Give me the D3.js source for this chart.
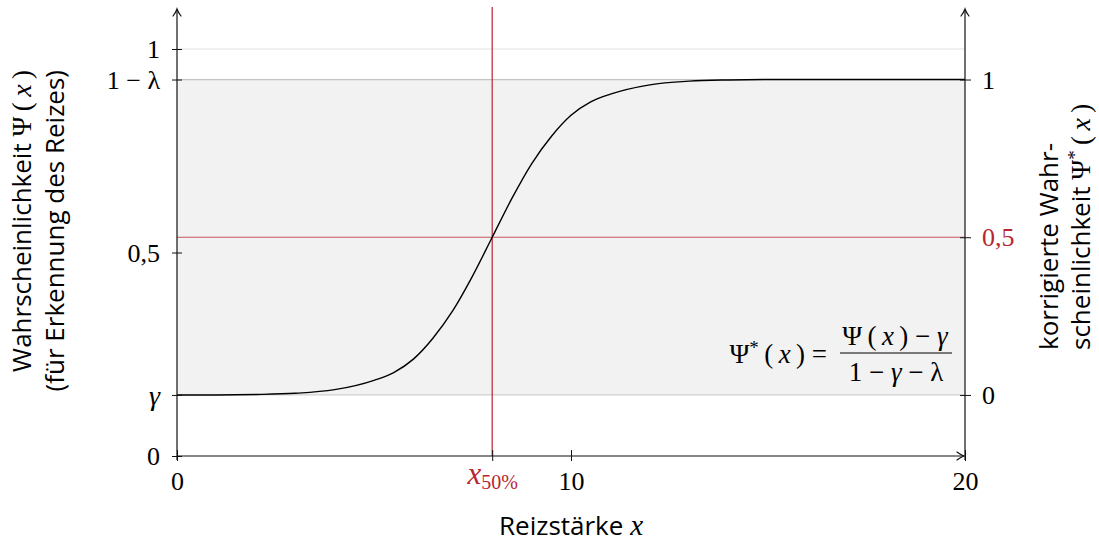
<!DOCTYPE html>
<html>
<head>
<meta charset="utf-8">
<script src="https://cdn.jsdelivr.net/npm/d3@7"></script>
<style>
  html, body { margin: 0; padding: 0; background: #fff; }
  svg { display: block; }
  .sans { font-family: "Open Sans", "Noto Sans", sans-serif; }
</style>
</head>
<body>
<svg id="chart" width="1099" height="544"></svg>
<script>
// Psychometric function: guess rate, lapse rate and threshold
const gamma = 0.15;
const lambda = 0.075;
const x50 = 8;

// Stimulus intensity and detection probability along the curve
const stimulus = [0, 1, 2, 3, 4, 5, 5.5, 6, 6.5, 7, 7.5, 8, 8.5, 9, 9.5, 10, 10.5, 11, 12, 13, 14, 15, 16, 17, 18, 19, 20];
const psi = [0.150, 0.150, 0.151, 0.154, 0.163, 0.186, 0.205, 0.238, 0.290, 0.357, 0.442, 0.5375, 0.633, 0.718, 0.785, 0.837, 0.870, 0.889, 0.912, 0.921, 0.924, 0.925, 0.925, 0.925, 0.925, 0.925, 0.925];

// Tick positions and their labels
const xTickValues = [0, x50, 10, 20];
const leftTickValues = [0, gamma, 0.5, 1 - lambda, 1];
const leftTickLabels = ["0", "γ", "0,5", "1 − λ", "1"];
const rightTickValues = [0, 0.5, 1];
const rightTickLabels = ["0", "0,5", "1"];

const red = "#b8262f";
const thin = "\u2009";
const svg = d3.select("#chart");

const x = d3.scaleLinear().domain([0, 20]).range([177, 965]);
const y = d3.scaleLinear().domain([0, 1]).range([456, 49]);
// corrected probability maps [0,1] onto [gamma, 1 - lambda]
const yc = d3.scaleLinear().domain([0, 1]).range([y(gamma), y(1 - lambda)]);

// shaded band between guess rate and 1 - lapse rate
svg.append("rect")
  .attr("x", x(0)).attr("width", x(20) - x(0))
  .attr("y", y(1 - lambda)).attr("height", y(gamma) - y(1 - lambda))
  .attr("fill", "#f2f2f2");

// reference lines
[[1, "#e2e2e2"], [1 - lambda, "#c4c4c4"], [gamma, "#d0d0d0"]].forEach(([v, c]) => {
  svg.append("line")
    .attr("x1", x(0)).attr("x2", x(20))
    .attr("y1", y(v)).attr("y2", y(v))
    .attr("stroke", c).attr("stroke-width", 1.2);
});

// threshold markers
svg.append("line")
  .attr("x1", x(0)).attr("x2", x(20))
  .attr("y1", yc(0.5)).attr("y2", yc(0.5))
  .attr("stroke", red).attr("stroke-opacity", 0.75).attr("stroke-width", 1.2);
svg.append("line")
  .attr("x1", x(x50)).attr("x2", x(x50))
  .attr("y1", 7).attr("y2", y(0))
  .attr("stroke", red).attr("stroke-width", 1.2);

// the psychometric curve
const line = d3.line()
  .x((d, i) => x(stimulus[i]))
  .y(d => y(d))
  .curve(d3.curveMonotoneX);
svg.append("path")
  .datum(psi)
  .attr("d", line)
  .attr("fill", "none")
  .attr("stroke", "#000")
  .attr("stroke-width", 1.4);

// axes
const axisColor = "#111";
const mathFont = "'Liberation Serif', serif";
function styleAxis(g) {
  g.select(".domain").remove();
  g.selectAll(".tick line").attr("stroke", axisColor);
  g.selectAll(".tick text")
    .attr("font-family", mathFont)
    .attr("font-size", 26)
    .attr("fill", "#000");
}

// left axis
const leftAxis = svg.append("g")
  .attr("transform", `translate(${x(0)},0)`)
  .call(d3.axisLeft(y).tickValues(leftTickValues)
    .tickFormat((d, i) => leftTickLabels[i]).tickSize(5).tickPadding(12))
  .call(styleAxis);
leftAxis.selectAll(".tick line").attr("x1", -5).attr("x2", 5);
leftAxis.selectAll(".tick text").attr("dy", "0.33em").attr("x", -17)
  .attr("font-style", (d, i) => leftTickLabels[i] === "γ" ? "italic" : "normal")
  .attr("font-size", (d, i) => leftTickLabels[i] === "γ" ? 28 : 26);

// right axis (corrected probability)
const rightAxis = svg.append("g")
  .attr("transform", `translate(${x(20)},0)`)
  .call(d3.axisRight(yc).tickValues(rightTickValues)
    .tickFormat((d, i) => rightTickLabels[i]).tickSize(5))
  .call(styleAxis);
rightAxis.selectAll(".tick line").attr("x1", -5).attr("x2", 6);
rightAxis.selectAll(".tick text").attr("dy", "0.33em").attr("x", 17)
  .attr("fill", d => d === 0.5 ? red : "#000");

// bottom axis
const bottomAxis = svg.append("g")
  .attr("transform", `translate(0,${y(0)})`)
  .call(d3.axisBottom(x).tickValues(xTickValues).tickSize(5))
  .call(styleAxis);
bottomAxis.selectAll(".tick line").attr("y1", -6).attr("y2", 5);
bottomAxis.selectAll(".tick text").attr("dy", 0).attr("y", 34)
  .each(function (d) {
    const t = d3.select(this);
    if (d === x50) {
      t.text("").attr("fill", red);
      t.append("tspan").attr("font-style", "italic").attr("font-size", 31).attr("dy", -6).text("x");
      t.append("tspan").attr("font-size", 20).attr("dy", 5).text("50%");
    }
  });

// axis lines with arrow tips
const axisLines = svg.append("g").attr("stroke", axisColor).attr("stroke-width", 1.2).attr("fill", "none");
axisLines.append("line").attr("x1", x(0)).attr("x2", x(0)).attr("y1", 460).attr("y2", 10);
axisLines.append("line").attr("x1", x(20)).attr("x2", x(20)).attr("y1", 460).attr("y2", 10);
axisLines.append("line").attr("x1", x(0)).attr("x2", x(20) - 1).attr("y1", y(0)).attr("y2", y(0));
function arrowUp(cx, cy) {
  axisLines.append("path")
    .attr("d", `M${cx - 4},${cy + 7} Q${cx - 1},${cy + 3} ${cx},${cy} Q${cx + 1},${cy + 3} ${cx + 4},${cy + 7}`)
    .attr("stroke-linecap", "round");
}
arrowUp(x(0), 9);
arrowUp(x(20), 9);
const ax = x(20) - 1, ay = y(0);
axisLines.append("path")
  .attr("d", `M${ax - 7},${ay - 4} Q${ax - 3},${ay - 1} ${ax},${ay} Q${ax - 3},${ay + 1} ${ax - 7},${ay + 4}`)
  .attr("stroke-linecap", "round");

// axis titles
function mathPsi(t, star) {
  t.append("tspan").attr("font-family", mathFont).attr("font-size", 27).text(star ? "Ψ" : " Ψ");
  if (star) t.append("tspan").attr("font-family", mathFont).attr("dy", -9).attr("font-size", 19).text("*");
  t.append("tspan").attr("font-family", mathFont).attr("font-size", 27).attr("dy", star ? 9 : 0).text(thin + "(" + thin);
  t.append("tspan").attr("font-family", mathFont).attr("font-size", 28).attr("font-style", "italic").text("x");
  t.append("tspan").attr("font-family", mathFont).attr("font-size", 27).text(thin + ")");
}

const leftTitle = svg.append("g").attr("class", "sans").attr("font-size", 26).attr("fill", "#000");
const l1 = leftTitle.append("text")
  .attr("transform", "translate(31,70) rotate(-90)")
  .attr("text-anchor", "end");
l1.append("tspan").text("Wahrscheinlichkeit");
mathPsi(l1, false);
leftTitle.append("text")
  .attr("transform", "translate(64,70) rotate(-90)")
  .attr("text-anchor", "end")
  .text("(für Erkennung des Reizes)");

const rightTitle = svg.append("g").attr("class", "sans").attr("font-size", 26).attr("fill", "#000");
rightTitle.append("text")
  .attr("transform", "translate(1058,350) rotate(-90)")
  .text("korrigierte Wahr-");
const r2 = rightTitle.append("text")
  .attr("transform", "translate(1090,350) rotate(-90)");
r2.append("tspan").text("scheinlichkeit ");
mathPsi(r2, true);

const bottomTitle = svg.append("text")
  .attr("class", "sans").attr("font-size", 26)
  .attr("x", x(10)).attr("y", 535)
  .attr("text-anchor", "middle");
bottomTitle.append("tspan").text("Reizstärke ");
bottomTitle.append("tspan").attr("font-family", mathFont).attr("font-style", "italic").attr("font-size", 29).text("x");

// correction formula
const formula = svg.append("g").attr("font-family", mathFont).attr("font-size", 27).attr("fill", "#000");
const lhs = formula.append("text").attr("x", 827).attr("y", 363).attr("text-anchor", "end");
lhs.append("tspan").text("Ψ");
lhs.append("tspan").attr("dy", -9).attr("font-size", 19).text("*");
lhs.append("tspan").attr("dy", 9).text(thin + "(" + thin);
lhs.append("tspan").attr("font-style", "italic").text("x");
lhs.append("tspan").text(thin + ")  =");
const num = formula.append("text").attr("x", 895).attr("y", 345).attr("text-anchor", "middle");
num.append("tspan").text("Ψ" + thin + "(" + thin);
num.append("tspan").attr("font-style", "italic").text("x");
num.append("tspan").text(thin + ")  −  ");
num.append("tspan").attr("font-style", "italic").text("γ");
formula.append("line").attr("x1", 840).attr("x2", 952).attr("y1", 353).attr("y2", 353)
  .attr("stroke", "#000").attr("stroke-width", 1.2);
const den = formula.append("text").attr("x", 896).attr("y", 381).attr("text-anchor", "middle");
den.append("tspan").text("1  −  ");
den.append("tspan").attr("font-style", "italic").text("γ");
den.append("tspan").text("  −  λ");
</script>
</body>
</html>
